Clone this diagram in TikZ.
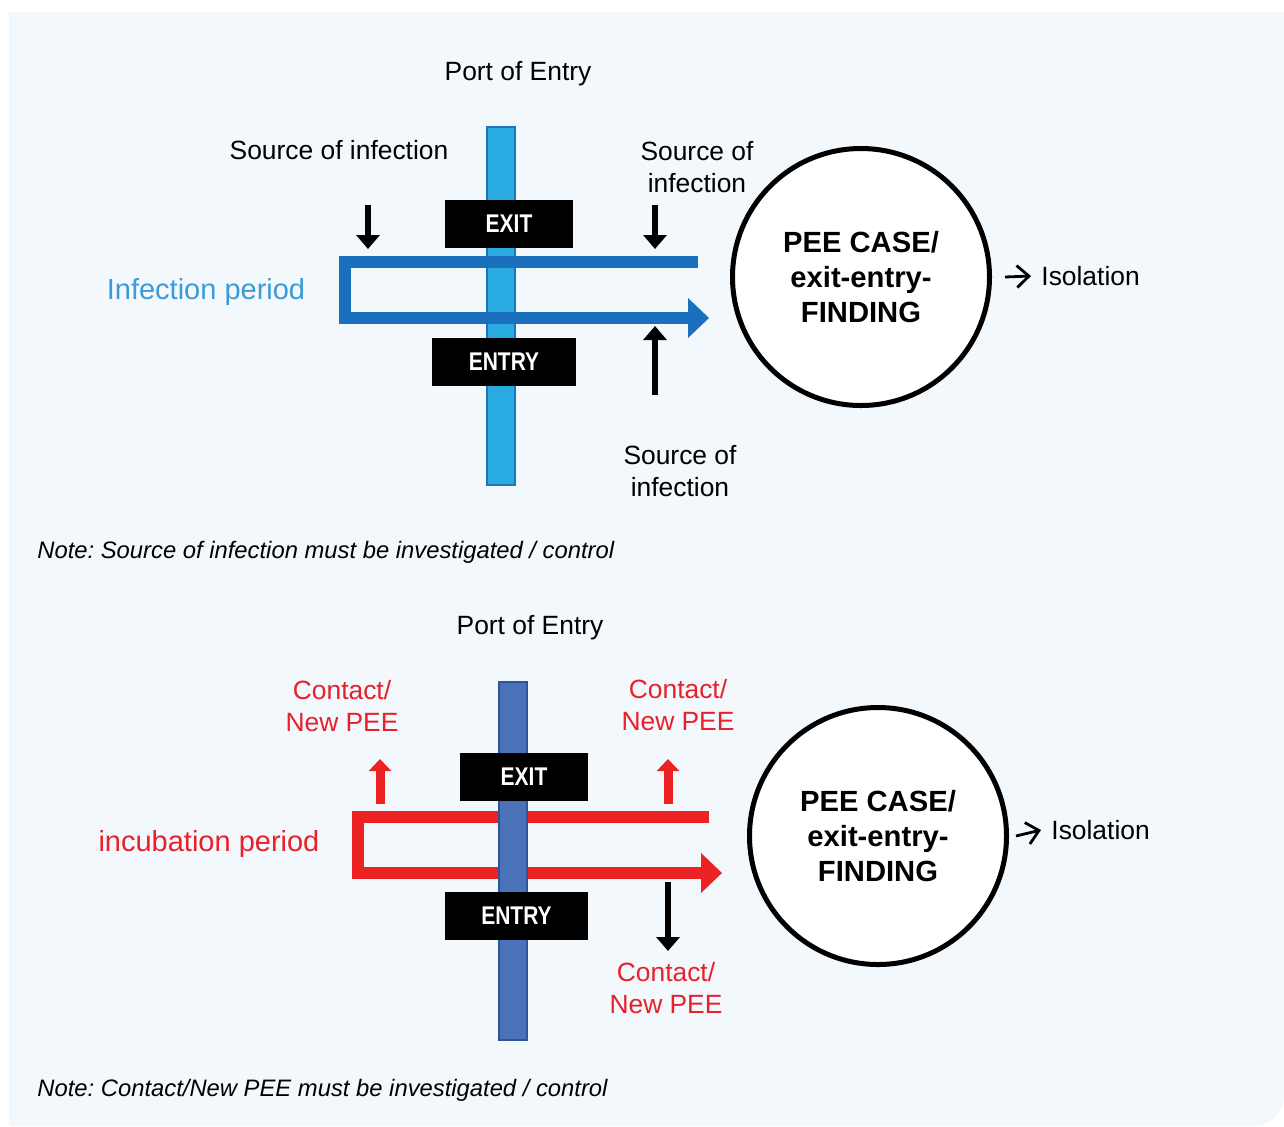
\documentclass[tikz,border=0pt]{standalone}
\usepackage{fontspec}
\setmainfont{Liberation Sans}
\usepackage{graphicx}
\usetikzlibrary{arrows.meta}

\definecolor{panelbg}{HTML}{F3F8FD}
\definecolor{piercyan}{HTML}{29ABE2}
\definecolor{piercyanedge}{HTML}{1C75BC}
\definecolor{pierblue}{HTML}{4A72B8}
\definecolor{pierblueedge}{HTML}{2F5597}
\definecolor{routeblue}{HTML}{1A70BC}
\definecolor{periodblue}{HTML}{3B9BD8}
\definecolor{routered}{HTML}{ED2224}
\definecolor{textred}{HTML}{E8202A}

\newcommand{\gatelabel}[1]{\scalebox{0.82}[1]{#1}}

\begin{document}
\frenchspacing
\begin{tikzpicture}[x=0.5pt,y=-0.5pt,
  txt/.style={font=\fontsize{13.2pt}{16pt}\selectfont, align=center, inner sep=0pt},
  redtxt/.style={txt, text=textred},
  period/.style={font=\fontsize{14.5pt}{17pt}\selectfont, inner sep=0pt},
  note/.style={font=\fontsize{11.9pt}{14pt}\selectfont\itshape, anchor=west, inner sep=0pt},
  gate/.style={fill=black, text=white, minimum height=24pt, inner sep=0pt,
    font=\fontsize{12.8pt}{14pt}\selectfont\bfseries},
  pier/.style={rectangle, minimum width=14pt, minimum height=179pt, inner sep=0pt, line width=1pt},
  case/.style={circle, draw=black, line width=2.5pt, fill=white, minimum size=128.5pt,
    inner sep=0pt, align=center, font=\fontsize{14.6pt}{17.5pt}\selectfont\bfseries},
  blkarrow/.style={line width=3pt, -{Triangle[width=11.5pt,length=7pt]}},
  redarrow/.style={routered, line width=4.5pt, -{Triangle[width=11pt,length=6pt]}},
  isoarrow/.style={line width=1.4pt, -{Straight Barb[width=11pt,length=6pt]}},
  route/.style={line width=6pt, miter limit=10, line join=miter}
]
% panel background with one rounded corner
\useasboundingbox (0,0) rectangle (1284,1126);
\fill[panelbg] (9,12) -- (1284,12) -- (1284,1096)
  .. controls (1284,1112.5) and (1270.5,1126) .. (1254,1126) -- (9,1126) -- cycle;

% ---------------- upper panel: infection period ----------------
\node[txt] (port1) at (518,74) {Port of Entry};
\node[pier, fill=piercyan, draw=piercyanedge] (pier1) at (501,306) {};

% outbound / return route
\draw[route, routeblue] (698,262) -- (345,262) -- (345,318) -- (690,318);
\fill[routeblue] (688,298) -- (709,318) -- (688,338) -- cycle;

\node[gate, minimum width=64pt] (exit1) at (509,224) {\gatelabel{EXIT}};
\node[gate, minimum width=72pt] (entry1) at (504,362) {\gatelabel{ENTRY}};

\node[txt] (src1) at (339,150) {Source of infection};
\node[txt] (src2) at (697,167) {Source of\\infection};
\node[txt] (src3) at (680,471) {Source of\\infection};
\node[period, text=periodblue] (period1) at (206,292) {Infection period};

\coordinate (a1s) at (368,205); \coordinate (a1e) at (368,249);
\coordinate (a2s) at (655,205); \coordinate (a2e) at (655,249);
\coordinate (a3s) at (655,395); \coordinate (a3e) at (655,326);
\draw[blkarrow] (a1s) -- (a1e);
\draw[blkarrow] (a2s) -- (a2e);
\draw[blkarrow] (a3s) -- (a3e);

\node[case] (case1) at (861,277) {PEE CASE/\\exit-entry-\\FINDING};
\node[txt, anchor=west] (iso1) at (1041,276) {Isolation};
\draw[isoarrow] ([xshift=6.5pt]case1.east) -- ([xshift=-5pt]iso1.west);

\node[note] (note1) at (37,552) {Note: Source of infection must be investigated / control};

% ---------------- lower panel: incubation period ----------------
\node[txt] (port2) at (530,628) {Port of Entry};

% outbound / return route (behind the pier)
\draw[route, routered] (709,817) -- (358,817) -- (358,873) -- (703,873);
\fill[routered] (701,853) -- (722,873) -- (701,893) -- cycle;

\node[pier, fill=pierblue, draw=pierblueedge] (pier2) at (513,860.5) {};

\node[gate, minimum width=64pt] (exit2) at (524,777) {\gatelabel{EXIT}};
\node[gate, minimum width=71.5pt] (entry2) at (516.5,916) {\gatelabel{ENTRY}};

\node[redtxt] (ct1) at (342,706) {Contact/\\New PEE};
\node[redtxt] (ct2) at (678,705) {Contact/\\New PEE};
\node[redtxt] (ct3) at (666,988) {Contact/\\New PEE};
\node[period, text=textred] (period2) at (209,844) {incubation period};

\coordinate (b1s) at (380,804); \coordinate (b1e) at (380,759);
\coordinate (b2s) at (668,804); \coordinate (b2e) at (668,759);
\coordinate (b3s) at (668,882); \coordinate (b3e) at (668,951);
\draw[redarrow] (b1s) -- (b1e);
\draw[redarrow] (b2s) -- (b2e);
\draw[blkarrow] (b3s) -- (b3e);

\node[case] (case2) at (878,836) {PEE CASE/\\exit-entry-\\FINDING};
\node[txt, anchor=west] (iso2) at (1051,830) {Isolation};
\draw[isoarrow] ([xshift=3.5pt]case2.east) -- ([xshift=-5pt]iso2.west);

\node[note] (note2) at (37,1090) {Note: Contact/New PEE must be investigated / control};
\end{tikzpicture}
\end{document}
